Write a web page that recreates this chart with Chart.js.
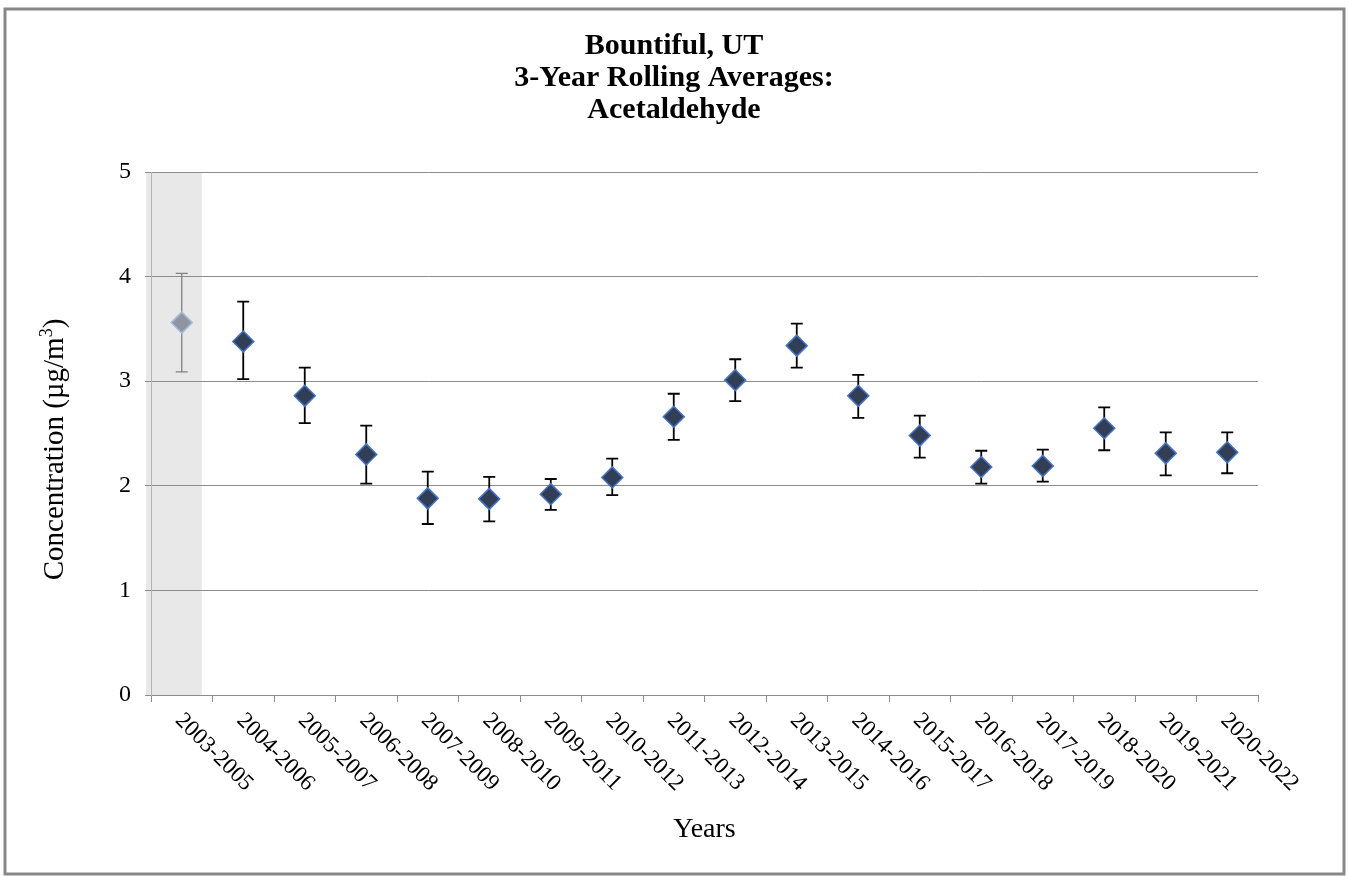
<!DOCTYPE html>
<html>
<head>
<meta charset="utf-8">
<script src="https://cdn.jsdelivr.net/npm/chart.js@4.4.1/dist/chart.umd.min.js"></script>
<style>
  html, body { margin: 0; padding: 0; background: #ffffff; }
  #c { display: block; }
</style>
</head>
<body>
<canvas id="c" width="1348" height="876"></canvas>
<script>
// ---- data ----
const periods = ['2003-2005','2004-2006','2005-2007','2006-2008','2007-2009','2008-2010','2009-2011','2010-2012','2011-2013','2012-2014','2013-2015','2014-2016','2015-2017','2016-2018','2017-2019','2018-2020','2019-2021','2020-2022'];
const averages = [3.56, 3.38, 2.86, 2.30, 1.88, 1.875, 1.92, 2.08, 2.66, 3.01, 3.34, 2.86, 2.48, 2.18, 2.19, 2.55, 2.31, 2.32];
const upperBounds = [4.03, 3.76, 3.13, 2.575, 2.135, 2.085, 2.065, 2.26, 2.88, 3.21, 3.55, 3.06, 2.67, 2.335, 2.345, 2.75, 2.51, 2.51];
const lowerBounds = [3.09, 3.02, 2.60, 2.02, 1.635, 1.66, 1.77, 1.91, 2.44, 2.81, 3.13, 2.65, 2.27, 2.02, 2.04, 2.34, 2.10, 2.12];
const yTicks = [0, 1, 2, 3, 4, 5];
const titleLines = ['Bountiful, UT', '3-Year Rolling Averages:', 'Acetaldehyde'];
const xTitle = 'Years';
const yTitleMain = 'Concentration (\u00b5g/m';
const yTitleSup = '3';
const yTitleEnd = ')';
const shadedIndex = 0;

const SERIF = '"Liberation Serif", "Times New Roman", serif';

const pageDecor = {
  id: 'pageDecor',
  beforeDraw(chart) {
    const ctx = chart.ctx;
    const ca = chart.chartArea;
    ctx.save();
    ctx.fillStyle = '#ffffff';
    ctx.fillRect(0, 0, chart.width, chart.height);
    // outer border
    ctx.strokeStyle = '#878787';
    ctx.lineWidth = 3;
    ctx.strokeRect(5, 9, 1339, 865);
    // shaded band for first period
    const xs = chart.scales.x;
    const ys = chart.scales.y;
    const xc = xs.getPixelForValue(shadedIndex);
    const left = ca.left - 5;
    const right = xc + 20;
    const top = ys.getPixelForValue(5);
    const bottom = ys.getPixelForValue(0);
    ctx.fillStyle = '#e8e8e8';
    ctx.fillRect(left, top, right - left, bottom - top);
    ctx.restore();
  },
  beforeDatasetsDraw(chart) {
    const ctx = chart.ctx;
    const xs = chart.scales.x;
    const ys = chart.scales.y;
    ctx.save();
    for (let i = 0; i < averages.length; i++) {
      const x = xs.getPixelForValue(i);
      const yt = ys.getPixelForValue(upperBounds[i]);
      const yb = ys.getPixelForValue(lowerBounds[i]);
      ctx.strokeStyle = i === shadedIndex ? '#808080' : '#000000';
      ctx.lineWidth = i === shadedIndex ? 1.3 : 1.8;
      ctx.beginPath();
      ctx.moveTo(x, yt); ctx.lineTo(x, yb);
      ctx.moveTo(x - 6, yt); ctx.lineTo(x + 6, yt);
      ctx.moveTo(x - 6, yb); ctx.lineTo(x + 6, yb);
      ctx.stroke();
    }
    ctx.restore();
  },
  afterDraw(chart) {
    const ctx = chart.ctx;
    const xs = chart.scales.x;
    const ca = chart.chartArea;
    ctx.save();
    ctx.fillStyle = '#000000';
    // rotated category labels
    ctx.font = '23px ' + SERIF;
    ctx.textAlign = 'left';
    ctx.textBaseline = 'middle';
    for (let i = 0; i < periods.length; i++) {
      const x = xs.getPixelForValue(i);
      ctx.save();
      ctx.translate(x - 3, ca.bottom + 22);
      ctx.rotate(Math.PI / 4);
      ctx.fillText(periods[i], 0, 0);
      ctx.restore();
    }
    // y axis title with superscript
    const mainFont = '29px ' + SERIF;
    const supFont = '18px ' + SERIF;
    ctx.font = mainFont;
    const w1 = ctx.measureText(yTitleMain).width;
    const w3 = ctx.measureText(yTitleEnd).width;
    ctx.font = supFont;
    const w2 = ctx.measureText(yTitleSup).width;
    const total = w1 + w2 + w3;
    ctx.save();
    ctx.translate(53, (ca.top + ca.bottom) / 2 + 16);
    ctx.rotate(-Math.PI / 2);
    ctx.textAlign = 'left';
    ctx.textBaseline = 'alphabetic';
    let sx = -total / 2;
    const base = 10;
    ctx.font = mainFont;
    ctx.fillText(yTitleMain, sx, base);
    sx += w1;
    ctx.font = supFont;
    ctx.fillText(yTitleSup, sx, base - 11);
    sx += w2;
    ctx.font = mainFont;
    ctx.fillText(yTitleEnd, sx, base);
    ctx.restore();
    ctx.restore();
  }
};

const chart = new Chart(document.getElementById('c'), {
  type: 'line',
  data: {
    labels: periods,
    datasets: [{
      label: 'Acetaldehyde',
      data: averages,
      showLine: false,
      pointStyle: 'rectRot',
      pointRadius: 10.5,
      pointHoverRadius: 10.5,
      pointBackgroundColor: averages.map((v, i) => i === shadedIndex ? '#8e95a1' : '#323e56'),
      pointBorderColor: averages.map((v, i) => i === shadedIndex ? '#a8b9d8' : '#4676c8'),
      pointBorderWidth: 1.5
    }]
  },
  options: {
    responsive: false,
    animation: false,
    devicePixelRatio: 1,
    layout: { padding: 0 },
    plugins: {
      legend: { display: false },
      tooltip: { enabled: false },
      title: {
        display: true,
        text: titleLines,
        color: '#000000',
        font: { family: SERIF, size: 30, weight: 'bold', lineHeight: 32 / 30 },
        padding: { top: 30, bottom: 46 }
      }
    },
    scales: {
      x: {
        type: 'category',
        offset: true,
        grid: { display: true, offset: true, drawOnChartArea: false, drawTicks: true, tickLength: 7, color: '#8c8c8c', lineWidth: 1 },
        border: { display: true, color: '#8c8c8c', width: 1 },
        ticks: { display: false, autoSkip: false },
        title: {
          display: true, text: xTitle, color: '#000000',
          font: { family: SERIF, size: 28, lineHeight: 1.2 },
          padding: { top: 0, bottom: 30 }
        },
        afterFit(scale) { scale.height = 181; }
      },
      y: {
        type: 'linear',
        position: 'left',
        min: 0, max: 5,
        afterBuildTicks(scale) { scale.ticks = yTicks.map(v => ({ value: v })); },
        grid: { color: '#8c8c8c', lineWidth: 1, tickLength: 6, drawTicks: true },
        border: { display: true, color: '#b4b4b4', width: 1 },
        ticks: { color: '#000000', padding: 14, font: { family: SERIF, size: 24 } },
        afterFit(scale) { scale.width = 151; }
      },
      yR: {
        type: 'linear',
        position: 'right',
        display: true,
        grid: { display: false, drawTicks: false },
        border: { display: false },
        ticks: { display: false },
        afterFit(scale) { scale.width = 90; }
      }
    }
  },
  plugins: [pageDecor]
});
</script>
</body>
</html>
